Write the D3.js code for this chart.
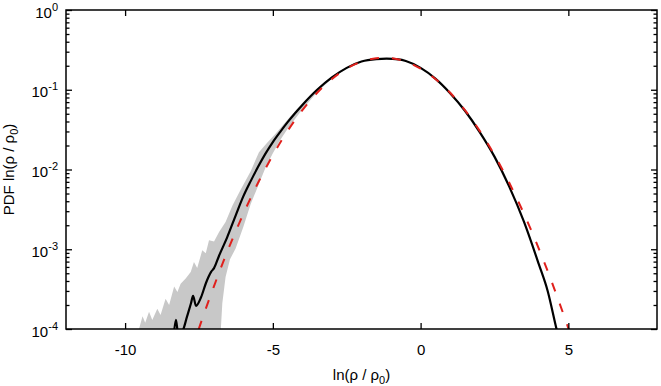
<!DOCTYPE html>
<html lang="en">
<head>
  <meta charset="UTF-8">
  <script src="https://d3js.org/d3.v7.min.js"></script>
  <title>PDF ln(rho / rho0)</title>
  <style>
    body { margin: 0; background: #fff; }
    svg { display: block; font-family: "Liberation Sans", Arial, Helvetica, sans-serif; }
  </style>
</head>
<body>
  <svg width="661" height="386"></svg>
  <script>
    // mean of the runs (black line)
    const meanLnRho = [-8.36, -8.28, -8.20, -8.05, -7.91, -7.77, -7.70, -7.60, -7.43, -7.26, -7.09, -6.99, -6.82, -6.55, -6.25, -6.00, -5.75, -5.50, -5.25, -5.00, -4.75, -4.50, -4.25, -4.00, -3.50, -3.00, -2.50, -2.00, -1.50, -1.15, -0.75, -0.50, 0.00, 0.50, 1.00, 1.50, 2.00, 2.50, 3.00, 3.50, 4.00, 4.30, 4.60, 4.75];
    const meanPdf = [0.8e-4, 1.3e-4, 0.85e-4, 0.95e-4, 1.41e-4, 2.1e-4, 2.6e-4, 1.95e-4, 2.5e-4, 3.8e-4, 5.2e-4, 5.8e-4, 8.3e-4, 1.4e-3, 2.7e-3, 4.6e-3, 7.15e-3, 0.0108, 0.0158, 0.0221, 0.0297, 0.0392, 0.0508, 0.0646, 0.100, 0.143, 0.188, 0.226, 0.242, 0.245, 0.240, 0.229, 0.188, 0.138, 0.0905, 0.0545, 0.0295, 0.0145, 6.1e-3, 2.2e-3, 6.5e-4, 3.0e-4, 1.0e-4, 6.0e-5];

    // spread of the runs (grey band): upper and lower edge
    const bandTopLnRho = [-9.75, -9.53, -9.41, -9.32, -9.19, -9.08, -8.91, -8.80, -8.63, -8.51, -8.34, -8.23, -8.12, -7.95, -7.78, -7.67, -7.56, -7.39, -7.27, -7.16, -6.99, -6.82, -6.60, -6.37, -6.10, -5.75, -5.47, -5.20, -4.91, -4.46, -4.00, -3.50, -3.00, -2.50, -2.00];
    const bandTopPdf = [0.6e-4, 1.0e-4, 1.45e-4, 1.2e-4, 1.65e-4, 1.3e-4, 1.8e-4, 1.5e-4, 2.4e-4, 2.0e-4, 3.4e-4, 2.9e-4, 3.7e-4, 4.3e-4, 5.2e-4, 6.9e-4, 5.8e-4, 9.7e-4, 8.9e-4, 1.3e-3, 1.25e-3, 1.65e-3, 2.2e-3, 3.5e-3, 5.5e-3, 9.5e-3, 0.0165, 0.0215, 0.028, 0.044, 0.068, 0.104, 0.148, 0.191, 0.227];
    const bandBottomLnRho = [-6.80, -6.76, -6.71, -6.60, -6.45, -6.26, -6.00, -5.75, -5.50, -5.25, -5.00, -4.75, -4.50, -4.00, -3.50, -3.00, -2.50, -2.00];
    const bandBottomPdf = [0.7e-4, 1.0e-4, 2.1e-4, 4.5e-4, 7.5e-4, 1.02e-3, 1.9e-3, 3.7e-3, 6.2e-3, 0.0105, 0.0160, 0.0235, 0.0325, 0.057, 0.093, 0.138, 0.185, 0.224];

    // lognormal fit (red dashed)
    const fitLnRho = [-7.75, -7.5, -7, -6.5, -6, -5.5, -5, -4.5, -4, -3.5, -3, -2.5, -2, -1.5, -1.25, -1, -0.5, 0, 0.5, 1, 1.5, 2, 2.5, 3, 3.5, 4, 4.5, 5, 5.25];
    const fitPdf = [5.4e-5, 1.02e-4, 3.38e-4, 1.02e-3, 2.77e-3, 6.81e-3, 0.01515, 0.0305, 0.0555, 0.0916, 0.1366, 0.1844, 0.2252, 0.2489, 0.252, 0.2489, 0.2252, 0.1844, 0.1366, 0.0916, 0.0555, 0.0305, 0.01515, 6.81e-3, 2.77e-3, 1.02e-3, 3.38e-4, 1.02e-4, 5.4e-5];

    const xTicks = [-10, -5, 0, 5];
    const yExponents = [0, -1, -2, -3, -4];

    const drawChart = () => {
      const svg = d3.select("svg");
      const left = 66, right = 657, top = 10, bottom = 329;

      const xScale = d3.scaleLinear().domain([-12, 8]).range([left, right]);
      const yScale = d3.scaleLog().domain([1e-4, 1]).range([bottom, top]);

      svg.append("defs").append("clipPath").attr("id", "plotArea")
        .append("rect")
        .attr("x", left).attr("y", top)
        .attr("width", right - left).attr("height", bottom - top);

      const plot = svg.append("g").attr("clip-path", "url(#plotArea)");

      // grey band = upper edge, then lower edge backwards
      const bandPts = bandTopLnRho.map((x, i) => [x, bandTopPdf[i]])
        .concat(bandBottomLnRho.map((x, i) => [x, bandBottomPdf[i]]).reverse());
      const bandLine = d3.line().x(d => xScale(d[0])).y(d => yScale(d[1]));
      plot.append("path")
        .attr("d", bandLine(bandPts) + "Z")
        .attr("fill", "#c8c8c8");

      const meanLine = d3.line()
        .x((d, i) => xScale(meanLnRho[i]))
        .y(d => yScale(d))
        .curve(d3.curveMonotoneX);
      plot.append("path")
        .attr("d", meanLine(meanPdf))
        .attr("fill", "none")
        .attr("stroke", "#000")
        .attr("stroke-width", 2.2);

      const fitLine = d3.line()
        .x((d, i) => xScale(fitLnRho[i]))
        .y(d => yScale(d))
        .curve(d3.curveMonotoneX);
      plot.append("path")
        .attr("d", fitLine(fitPdf))
        .attr("fill", "none")
        .attr("stroke", "#e0201c")
        .attr("stroke-width", 2)
        .attr("stroke-dasharray", "9,13");

      // ticks (all pointing inwards, mirrored on top and right)
      const yMajor = yExponents.map(e => Math.pow(10, e));
      const yMinor = [];
      for (let e = -4; e < 0; e++) {
        for (let m = 2; m <= 9; m++) yMinor.push(m * Math.pow(10, e));
      }

      const styleAxis = g => {
        g.select(".domain").remove();
        g.selectAll(".tick line").attr("stroke", "#000").attr("stroke-width", 1.3);
        g.attr("font-size", 15).attr("font-family", null);
        g.selectAll(".tick text").attr("fill", "#000");
      };

      svg.append("g")
        .attr("transform", `translate(${left},0)`)
        .call(d3.axisLeft(yScale).tickValues(yMajor).tickSize(-6).tickPadding(8).tickFormat(() => ""))
        .call(styleAxis)
        .call(g => g.selectAll(".tick text")
          .attr("dy", "0.47em")
          .text("10")
          .append("tspan")
          .attr("dy", -7)
          .attr("font-size", 11)
          .text(d => Math.round(Math.log10(d))));

      svg.append("g")
        .attr("transform", `translate(${left},0)`)
        .call(d3.axisLeft(yScale).tickValues(yMinor).tickSize(-3.5).tickFormat(() => ""))
        .call(styleAxis);

      svg.append("g")
        .attr("transform", `translate(${right},0)`)
        .call(d3.axisRight(yScale).tickValues(yMajor).tickSize(-6).tickFormat(() => ""))
        .call(styleAxis);

      svg.append("g")
        .attr("transform", `translate(${right},0)`)
        .call(d3.axisRight(yScale).tickValues(yMinor).tickSize(-3.5).tickFormat(() => ""))
        .call(styleAxis);

      svg.append("g")
        .attr("transform", `translate(0,${bottom})`)
        .call(d3.axisBottom(xScale).tickValues(xTicks).tickSize(-6).tickPadding(15).tickFormat(d => String(d)))
        .call(styleAxis);

      svg.append("g")
        .attr("transform", `translate(0,${top})`)
        .call(d3.axisTop(xScale).tickValues(xTicks).tickSize(-6).tickFormat(() => ""))
        .call(styleAxis);

      // frame
      svg.append("rect")
        .attr("x", left).attr("y", top)
        .attr("width", right - left).attr("height", bottom - top)
        .attr("fill", "none")
        .attr("stroke", "#000")
        .attr("stroke-width", 1.5);

      // axis titles
      const xTitle = svg.append("text")
        .attr("x", (left + right) / 2)
        .attr("y", 380)
        .attr("text-anchor", "middle")
        .attr("font-size", 15)
        .attr("fill", "#000");
      xTitle.append("tspan").text("ln(ρ / ρ");
      xTitle.append("tspan").attr("font-size", 11).attr("dy", 4).text("0");
      xTitle.append("tspan").attr("dy", -4).text(")");

      const yTitle = svg.append("text")
        .attr("transform", `translate(14,${(top + bottom) / 2}) rotate(-90)`)
        .attr("text-anchor", "middle")
        .attr("font-size", 15)
        .attr("fill", "#000");
      yTitle.append("tspan").text("PDF ln(ρ / ρ");
      yTitle.append("tspan").attr("font-size", 11).attr("dy", 4).text("0");
      yTitle.append("tspan").attr("dy", -4).text(")");
    };

    drawChart();
  </script>
</body>
</html>
